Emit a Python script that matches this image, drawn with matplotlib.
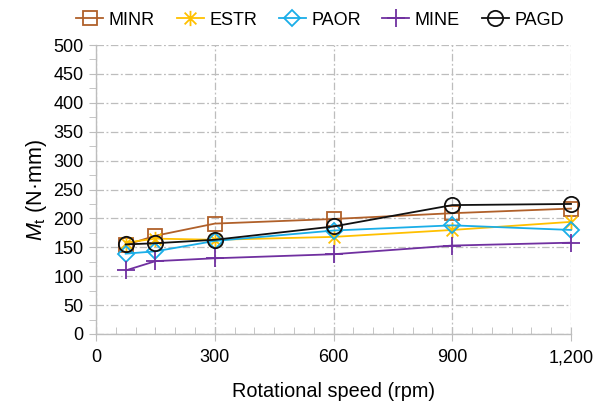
import matplotlib
matplotlib.use("Agg")
import matplotlib.pyplot as plt
from matplotlib.path import Path
from matplotlib.ticker import MultipleLocator, FuncFormatter

plt.rcParams['font.family'] = ['Liberation Sans', 'DejaVu Sans']
plt.rcParams['mathtext.fontset'] = 'custom'
plt.rcParams['mathtext.it'] = 'Liberation Sans:italic'
plt.rcParams['mathtext.rm'] = 'Liberation Sans'

speed = [75, 150, 300, 600, 900, 1200]
minr = [154, 170, 191, 199, 209, 217]
estr = [158, 165, 163, 168, 180, 194]
paor = [139, 143, 161, 179, 188, 180]
mine = [110, 126, 131, 138, 153, 158]
pagd = [155, 157, 163, 186, 223, 225]

series_names = ["MINR", "ESTR", "PAOR", "MINE", "PAGD"]
series_values = [minr, estr, paor, mine, pagd]
colors = ["#B0602A", "#FFC000", "#1AAEE8", "#7030A0", "#111111"]

# Excel-style asterisk: an X with a vertical stroke
star = Path([(-1, -1), (1, 1), (-1, 1), (1, -1), (0, -1.3), (0, 1.3)],
            [Path.MOVETO, Path.LINETO, Path.MOVETO, Path.LINETO, Path.MOVETO, Path.LINETO])
markers = ["s", star, "D", "+", "o"]
sizes = [10, 11, 8, 13, 11]

fig = plt.figure(figsize=(5.96, 4.04), dpi=100)
ax = fig.add_axes([96 / 596, 1 - 334 / 404, 475 / 596, 289 / 404])

for name, vals, c, m, s in zip(series_names, series_values, colors, markers, sizes):
    ax.plot(speed, vals, color=c, lw=1.3, marker=m, ms=s, mfc="none",
            mec=c, mew=1.3, label=name, clip_on=False)

ax.set_xlim(0, 1200)
ax.set_ylim(0, 500)
ax.xaxis.set_major_locator(MultipleLocator(300))
ax.xaxis.set_minor_locator(MultipleLocator(50))
ax.yaxis.set_major_locator(MultipleLocator(50))
ax.yaxis.set_minor_locator(MultipleLocator(25))
ax.xaxis.set_major_formatter(FuncFormatter(lambda v, p: f"{int(v):,}"))

grid_c = "#BDBDBD"
ax.grid(True, which="major", color=grid_c, lw=0.9, ls=(0, (6, 2, 1.5, 2)))
ax.set_axisbelow(True)
for side in ["top", "right"]:
    ax.spines[side].set_visible(False)
for side in ["left", "bottom"]:
    ax.spines[side].set_color(grid_c)
    ax.spines[side].set_linewidth(1.0)

ax.tick_params(axis="y", which="both", direction="out", color=grid_c, labelsize=13, pad=4)
ax.tick_params(axis="y", which="major", length=5)
ax.tick_params(axis="y", which="minor", length=5)
ax.tick_params(axis="x", which="major", direction="inout", length=10, color=grid_c, labelsize=13, pad=6)
ax.tick_params(axis="x", which="minor", direction="in", length=5, color=grid_c)

ax.set_xlabel("Rotational speed (rpm)", fontsize=14.3, labelpad=11)
ax.set_ylabel(r"$M_\mathrm{t}$ (N·mm)", fontsize=15.5, labelpad=3)

fig.legend(loc="center", bbox_to_anchor=(0.537, 0.95), ncol=5, frameon=False,
           fontsize=13, handlelength=1.5, handletextpad=0.3, columnspacing=1.2,
           borderaxespad=0)

fig.savefig("out.png", dpi=100)
